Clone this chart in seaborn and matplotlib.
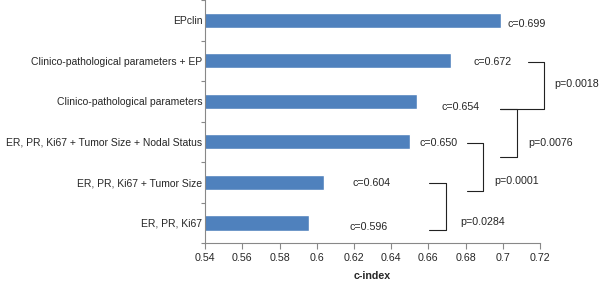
import numpy as np
import pandas as pd
import seaborn as sns
import matplotlib.pyplot as plt
from matplotlib.ticker import FixedLocator

# chart data
models = [
    'EPclin',
    'Clinico-pathological parameters + EP',
    'Clinico-pathological parameters',
    'ER, PR, Ki67 + Tumor Size + Nodal Status',
    'ER, PR, Ki67 + Tumor Size',
    'ER, PR, Ki67',
]
c_index = [0.699, 0.672, 0.654, 0.650, 0.604, 0.596]
x_ticks = [0.54, 0.56, 0.58, 0.60, 0.62, 0.64, 0.66, 0.68, 0.70, 0.72]
p_labels = ['p=0.0018', 'p=0.0076', 'p=0.0001', 'p=0.0284']

# hand-placed annotation layout (data units), as in the original figure
c_label_pos = [(0.7023, 0.10), (0.6840, 1.04), (0.6673, 2.15),
               (0.6550, 3.04), (0.6190, 4.01), (0.6174, 5.10)]
brackets = [  # (x_top_left, x_bottom_left, x_vertical, y_top, y_bottom)
    (0.7136, 0.6985, 0.7222, 1.04, 2.18),
    (0.6985, 0.6985, 0.7076, 2.18, 3.37),
    (0.6808, 0.6808, 0.6894, 3.04, 4.21),
    (0.6604, 0.6604, 0.6695, 4.01, 5.17),
]
p_label_pos = [(0.7275, 1.58), (0.7136, 3.02), (0.6953, 3.96), (0.6770, 4.98)]

sns.set_style('white')
plt.rcParams['font.family'] = ['Liberation Sans', 'DejaVu Sans']
fs = 7.7

df = pd.DataFrame({'model': models, 'c': c_index})

fig = plt.figure(figsize=(6.0, 2.82), dpi=100)
ax = fig.add_axes([0.342, 0.138, 0.558, 0.862])
sns.barplot(data=df, x='c', y='model', orient='h', color='#4F81BD',
            saturation=1, width=0.38, ax=ax)

ax.set_xlim(0.54, 0.72)
ax.set_ylim(5.5, -0.5)
ax.set_xticks(x_ticks)
ax.set_xticklabels([f'{v:g}' for v in x_ticks], fontsize=fs)
ax.set_yticklabels(models, fontsize=7.5)
ax.yaxis.set_minor_locator(FixedLocator(np.arange(-0.5, 6, 1)))
ax.tick_params(axis='y', which='major', left=True, length=0, pad=2)
ax.tick_params(axis='y', which='minor', left=True, length=3,
               color='#888888', width=0.8)
ax.tick_params(axis='x', bottom=True, length=4, color='#888888', width=0.8, pad=3)
ax.set_xlabel('c-index', fontsize=fs, fontweight='bold', labelpad=6)
ax.set_ylabel('')

sns.despine(ax=ax)
for s in ['left', 'bottom']:
    ax.spines[s].set_color('#888888')
    ax.spines[s].set_linewidth(0.8)

for (x, y), c in zip(c_label_pos, c_index):
    ax.text(x, y, f'c={c:.3f}', fontsize=fs, va='center', ha='left', clip_on=False)

for xt, xb, xv, yt, yb in brackets:
    ax.plot([xt, xv, xv, xb], [yt, yt, yb, yb], color='#222222', lw=0.8,
            clip_on=False)

for (x, y), p in zip(p_label_pos, p_labels):
    ax.text(x, y, p, fontsize=fs, va='center', ha='left', clip_on=False)

fig.savefig('out.png', dpi=100)
